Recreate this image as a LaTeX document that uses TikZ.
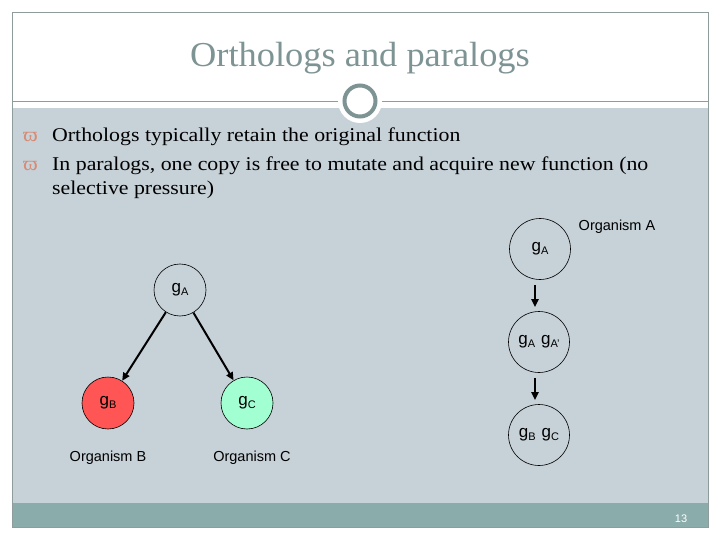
\documentclass[tikz,border=0pt]{standalone}
\usepackage{fontspec}
\setmainfont{Liberation Serif}
\setsansfont{Liberation Sans}
\newfontfamily\bodyfont[FakeStretch=1.12]{Liberation Serif}
\newfontfamily\titlefont[FakeStretch=1.04]{Liberation Serif}
\usetikzlibrary{arrows.meta}
\definecolor{slidebg}{HTML}{C6D1D8}
\definecolor{tealbar}{HTML}{8AACAB}
\definecolor{titlegray}{HTML}{7E9494}
\definecolor{framegray}{HTML}{8E9C9C}
\definecolor{bulletc}{HTML}{D98A72}
\definecolor{redc}{HTML}{FF5555}
\definecolor{greenc}{HTML}{A2FFD2}
\newcommand{\gsub}[1]{g\raisebox{-2.5pt}{\fontsize{11}{11}\selectfont #1}}
\tikzset{
  gene/.style={circle, draw=black, line width=0.6pt, minimum size=52pt, inner sep=0pt, font=\sffamily\fontsize{17}{17}\selectfont},
  bigene/.style={gene, minimum size=61pt},
  orglabel/.style={font=\sffamily\fontsize{14.5}{15}\selectfont, inner sep=0pt},
  arr/.style={-{Triangle[length=8pt,width=7pt]}, line width=2pt, black},
  bullettext/.style={font=\bodyfont\fontsize{19.5}{24}\selectfont, anchor=base west, inner sep=0pt},
  bulletmark/.style={font=\bodyfont\fontsize{20}{20}\selectfont, text=bulletc, anchor=base west, inner sep=0pt}
}
\begin{document}
\begin{tikzpicture}[x=1pt,y=-1pt]
\useasboundingbox (0,0) rectangle (720,540);
\fill[white] (0,0) rectangle (720,540);
% slide areas
\fill[slidebg] (12,108) rectangle (708,503);
\fill[tealbar] (12,503) rectangle (708,527);
\draw[framegray, line width=0.8pt] (12,12) rectangle (708,527);
\draw[framegray, line width=0.8pt] (12,101) -- (708,101);
% ring
\fill[white] (360,101) circle (22);
\draw[titlegray, line width=4pt, fill=white] (360,101) circle (15.5);
% title
\node[font=\titlefont\fontsize{35}{35}\selectfont, text=titlegray, inner sep=0pt] (title) at (360,58) {Orthologs and paralogs};
% bullets
\node[bulletmark] (b1) at (23,142) {ϖ};
\node[bullettext] (t1) at (52,142) {Orthologs typically retain the original function};
\node[bulletmark] (b2) at (23,171) {ϖ};
\node[bullettext] (t2) at (52,171) {In paralogs, one copy is free to mutate and acquire new function (no};
\node[bullettext] (t3) at (52,195) {selective pressure)};
% left tree
\node[gene] (lA) at (180,290) {\gsub{A}};
\node[gene, fill=redc] (lB) at (108,403) {\gsub{B}};
\node[gene, fill=greenc] (lC) at (247,403) {\gsub{C}};
\draw[arr] (lA) -- (lB);
\draw[arr] (lA) -- (lC);
\node[orglabel] (oB) at (108,458) {Organism B};
\node[orglabel] (oC) at (252,458) {Organism C};
% right column
\node[bigene] (r1) at (540,249) {\gsub{A}};
\node[bigene] (r2) at (539,342) {\gsub{A}\hspace{6pt}\gsub{A'}};
\node[bigene] (r3) at (539,435) {\gsub{B}\hspace{6pt}\gsub{C}};
\draw[arr, shorten <=5pt, shorten >=4pt] ([xshift=-5pt]r1.south) -- ([xshift=-4pt]r2.north);
\draw[arr, shorten <=5pt, shorten >=4pt] ([xshift=-4pt]r2.south) -- ([xshift=-4pt]r3.north);
\node[orglabel] (oA) at (617,227) {Organism A};
% page number
\node[font=\sffamily\fontsize{11}{11}\selectfont, text=white, inner sep=0pt] (pg) at (681,519) {13};
\end{tikzpicture}
\end{document}
